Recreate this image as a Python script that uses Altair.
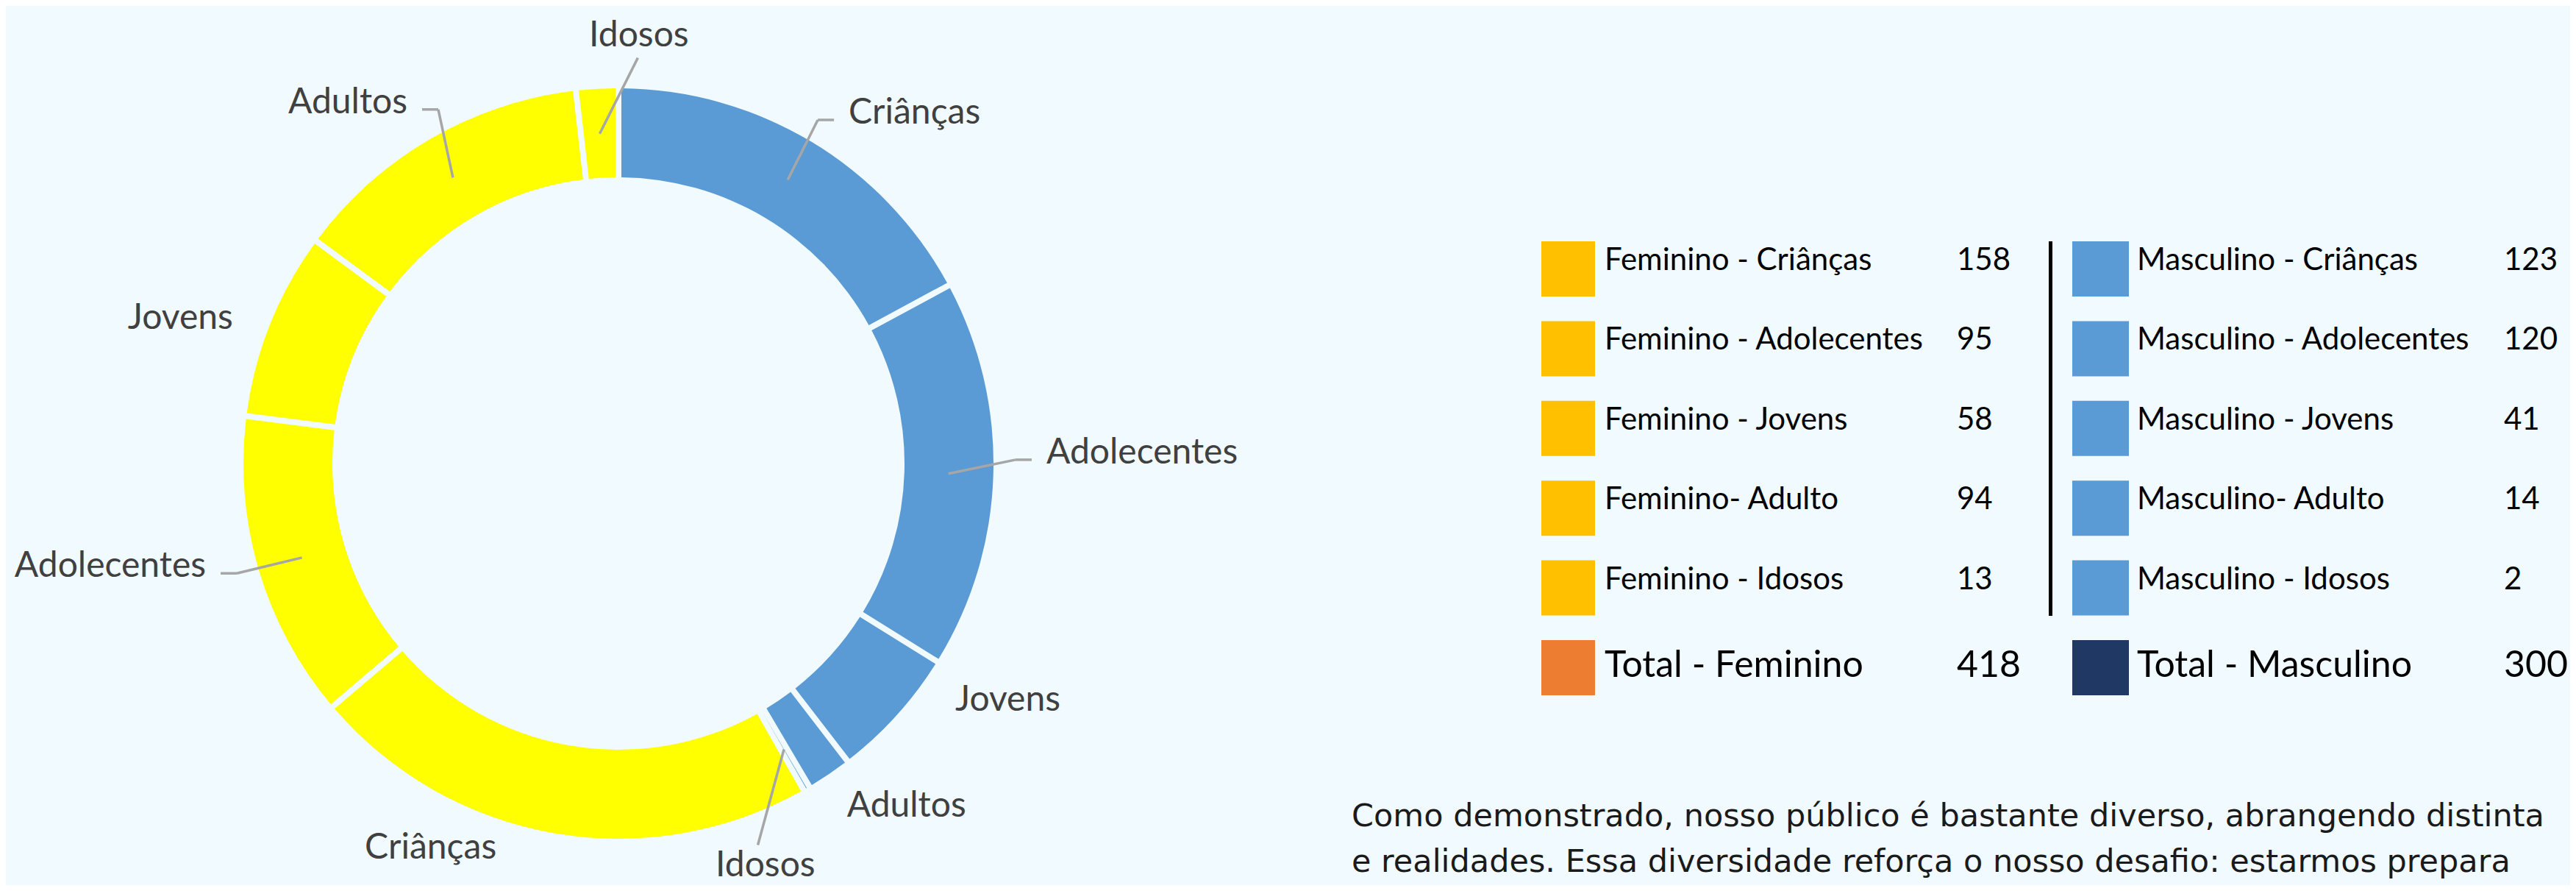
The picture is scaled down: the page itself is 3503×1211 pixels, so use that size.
import altair as alt
import pandas as pd

# ---------------- data ----------------
groups = ["Criânças", "Adolecentes", "Jovens", "Adultos", "Idosos"]
masc_values = [123, 120, 41, 14, 2]
fem_values = [158, 95, 58, 94, 13]

fem_legend = ["Feminino - Criânças", "Feminino - Adolecentes", "Feminino - Jovens",
              "Feminino- Adulto", "Feminino - Idosos"]
masc_legend = ["Masculino - Criânças", "Masculino - Adolecentes", "Masculino - Jovens",
               "Masculino- Adulto", "Masculino - Idosos"]
total_labels = ["Total - Feminino", "Total - Masculino"]
total_values = [418, 300]

paragraph = [
    "Como demonstrado, nosso público é bastante diverso, abrangendo distinta",
    "e realidades. Essa diversidade reforça o nosso desafio: estarmos prepara",
]

# label placement tweaks (annotation layout, like dragged data labels)
label_shift_deg = [-0.7, -2.3, -7, 0.4, 10, 16, 0.5, -1.2, 3.1, 6]
label_leader = [1, 1, 0, 0, 1, 0, 1, 0, 1, 1]

# ---------------- styling / layout ----------------
BG = "#F0FAFF"
BLUE = "#5B9BD5"
YELLOW = "#FFFF00"
CX, CY = 833, 622
R_IN, R_OUT = 389, 510
LABEL_FONT = "Lato"

donut = pd.DataFrame({
    "sex": ["M"] * 5 + ["F"] * 5,
    "group": groups + groups,
    "value": masc_values + fem_values,
    "idx": list(range(10)),
    "shift": label_shift_deg,
    "leader": label_leader,
})

base = (
    alt.Chart(donut)
    .transform_joinaggregate(total="sum(value)")
    .transform_window(cum="sum(value)", sort=[alt.SortField("idx", order="ascending")], frame=[None, 0])
    .transform_calculate(fill=f"datum.sex == 'M' ? '{BLUE}' : '{YELLOW}'")
    .transform_calculate(mid="(datum.cum - datum.value / 2) / datum.total * 2 * PI")
    .transform_calculate(la="datum.mid + datum.shift * PI / 180")
    .transform_calculate(side="sin(datum.la) > 0.45 ? 1 : (sin(datum.la) < -0.45 ? -1 : 0)")
    .transform_calculate(sx=f"{CX} + 449 * sin(datum.mid)")
    .transform_calculate(sy=f"{CY} - 449 * cos(datum.mid)")
    .transform_calculate(er="datum.side == 0 ? 552 : 540")
    .transform_calculate(ex=f"{CX} + datum.er * sin(datum.la)")
    .transform_calculate(ey=f"{CY} - datum.er * cos(datum.la)")
    .transform_calculate(tx="datum.ex + datum.side * 22")
    .transform_calculate(
        lx=f"datum.side == 0 ? {CX} + 582 * sin(datum.la) : (datum.leader == 1 ? datum.ex + datum.side * 42 : {CX} + 560 * sin(datum.la))"
    )
    .transform_calculate(
        ly=f"datum.side == 0 ? {CY} - 582 * cos(datum.la) : (datum.leader == 1 ? datum.ey - 9 : {CY} - 560 * cos(datum.la))"
    )
)

arcs = base.mark_arc(innerRadius=R_IN, outerRadius=R_OUT, padAngle=0.0125).encode(
    theta=alt.Theta("value:Q", stack=True),
    order=alt.Order("idx:Q"),
    color=alt.Color("fill:N", scale=None, legend=None),
    x=alt.value(CX),
    y=alt.value(CY),
)

lead1 = base.transform_filter(alt.datum.leader == 1).mark_rule(
    color="#A6A6A6", strokeWidth=3.5
).encode(
    x=alt.X("sx:Q", scale=None), y=alt.Y("sy:Q", scale=None),
    x2="ex:Q", y2="ey:Q",
)
lead2 = base.transform_filter("datum.leader == 1 && datum.side != 0").mark_rule(
    color="#A6A6A6", strokeWidth=3.5
).encode(
    x=alt.X("ex:Q", scale=None), y=alt.Y("ey:Q", scale=None),
    x2="tx:Q", y2="ey:Q",
)

def label_layer(cond, align):
    return base.transform_filter(cond).mark_text(
        align=align, baseline="middle", font=LABEL_FONT, fontSize=48, color="#404040"
    ).encode(
        x=alt.X("lx:Q", scale=None), y=alt.Y("ly:Q", scale=None), text="group:N"
    )

lab_l = label_layer("datum.side == 1", "left")
lab_r = label_layer("datum.side == -1", "right")
lab_c = label_layer("datum.side == 0", "center")

# ---------------- legend table ----------------
legend_df = pd.DataFrame({
    "col": [0] * 6 + [1] * 6,
    "row": list(range(6)) * 2,
    "label": fem_legend + [total_labels[0]] + masc_legend + [total_labels[1]],
    "value": [str(v) for v in fem_values] + [str(total_values[0])]
             + [str(v) for v in masc_values] + [str(total_values[1])],
})

lbase = (
    alt.Chart(legend_df)
    .transform_calculate(
        fill="datum.row == 5 ? (datum.col == 0 ? '#ED7D31' : '#203864') : (datum.col == 0 ? '#FFC000' : '#5B9BD5')"
    )
    .transform_calculate(x0="datum.col == 0 ? 2088 : 2810")
    .transform_calculate(x1="datum.col == 0 ? 2161 : 2887")
    .transform_calculate(ytop="320 + datum.row * 108.4")
    .transform_calculate(ybot="datum.ytop + 75")
    .transform_calculate(tx="datum.col == 0 ? 2174 : 2898")
    .transform_calculate(vx="datum.col == 0 ? 2653 : 3397")
    .transform_calculate(by="datum.ytop + (datum.row == 5 ? 50 : 39)")
    .transform_calculate(fs="datum.row == 5 ? 50 : 42")
)

swatches = lbase.mark_rect().encode(
    x=alt.X("x0:Q", scale=None), x2="x1:Q",
    y=alt.Y("ytop:Q", scale=None), y2="ybot:Q",
    color=alt.Color("fill:N", scale=None, legend=None),
)
ltext = lbase.mark_text(align="left", baseline="alphabetic", font=LABEL_FONT, color="black").encode(
    x=alt.X("tx:Q", scale=None), y=alt.Y("by:Q", scale=None),
    text="label:N", size=alt.Size("fs:Q", scale=None, legend=None),
)
vtext = lbase.mark_text(align="left", baseline="alphabetic", font=LABEL_FONT, color="black").encode(
    x=alt.X("vx:Q", scale=None), y=alt.Y("by:Q", scale=None),
    text="value:N", size=alt.Size("fs:Q", scale=None, legend=None),
)

divider = alt.Chart(legend_df).mark_rule(color="black", strokeWidth=4).encode(
    x=alt.value(2780.5), y=alt.value(320), y2=alt.value(829)
)

# ---------------- paragraph ----------------
para_df = pd.DataFrame({"line": paragraph, "i": list(range(len(paragraph)))})
para = (
    alt.Chart(para_df)
    .transform_calculate(py="1115 + datum.i * 62")
    .mark_text(align="left", baseline="alphabetic", font="DejaVu Sans", fontSize=43, color="#1A1A1A")
    .encode(x=alt.value(1830), y=alt.Y("py:Q", scale=None), text="line:N")
)

chart = (
    alt.layer(arcs, lead1, lead2, lab_l, lab_r, lab_c, swatches, ltext, vtext, divider, para)
    .properties(width=3487, height=1195, background=BG, padding=0,
                autosize=alt.AutoSizeParams(type="none"))
    .configure_view(stroke=None)
)

chart.save("out.html", embed_options={"renderer": "svg", "actions": False})
